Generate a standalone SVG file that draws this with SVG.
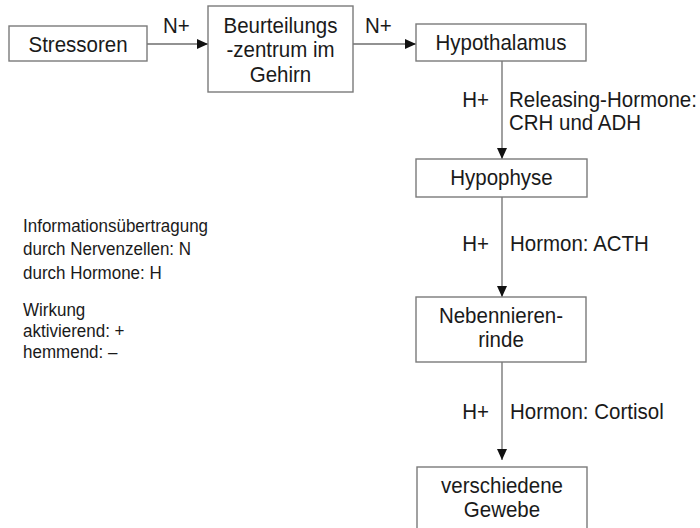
<svg xmlns="http://www.w3.org/2000/svg" width="700" height="528" viewBox="0 0 700 528">
<defs>
<marker id="ah" markerUnits="userSpaceOnUse" markerWidth="12" markerHeight="10" refX="11" refY="5" orient="auto">
<path d="M0,0 L11,5 L0,10 Z" fill="#111"/>
</marker>
<style>
.box{fill:#fff;stroke:#7a7a7a;stroke-width:1.4}
.t{font-family:"Liberation Sans",Arial,sans-serif;font-size:20.5px;fill:#1a1a1a}
.c{text-anchor:middle}
.r{text-anchor:end}
.lg{font-family:"Liberation Sans",Arial,sans-serif;font-size:17px;fill:#1a1a1a}
.ln{stroke:#6e6e6e;stroke-width:1.3;fill:none}
</style>
</defs>
<rect width="700" height="528" fill="#fff"/>
<g id="connectors">
<line class="ln" x1="147" y1="44" x2="208" y2="44" marker-end="url(#ah)"/>
<line class="ln" x1="353" y1="44" x2="416" y2="44" marker-end="url(#ah)"/>
<line class="ln" x1="502" y1="61" x2="502" y2="159" marker-end="url(#ah)"/>
<line class="ln" x1="502" y1="197" x2="502" y2="297" marker-end="url(#ah)"/>
<line class="ln" x1="502" y1="362" x2="502" y2="460" marker-end="url(#ah)"/>
<text class="t" transform="translate(163,33) scale(1,1.07)">N+</text>
<text class="t" transform="translate(365,33) scale(1,1.07)">N+</text>
<text class="t r" transform="translate(489,107) scale(1,1.07)">H+</text>
<text class="t" transform="translate(509,107) scale(1,1.07)">Releasing-Hormone:</text>
<text class="t" transform="translate(509,130) scale(1,1.07)">CRH und ADH</text>
<text class="t r" transform="translate(489,251) scale(1,1.07)">H+</text>
<text class="t" transform="translate(510,251) scale(1,1.07)">Hormon: ACTH</text>
<text class="t r" transform="translate(489,419) scale(1,1.07)">H+</text>
<text class="t" transform="translate(510,419) scale(1,1.07)">Hormon: Cortisol</text>
</g>
<g id="stressoren">
<rect class="box" x="9" y="26" width="138" height="35"/>
<text class="t c" transform="translate(78,52) scale(1,1.07)">Stressoren</text>
</g>
<g id="beurteilungszentrum">
<rect class="box" x="208" y="6" width="145" height="86"/>
<text class="t c" transform="translate(280.5,33) scale(1,1.07)">Beurteilungs</text>
<text class="t c" transform="translate(280.5,57) scale(1,1.07)">-zentrum im</text>
<text class="t c" transform="translate(280.5,82) scale(1,1.07)">Gehirn</text>
</g>
<g id="hypothalamus">
<rect class="box" x="416" y="24" width="170" height="37"/>
<text class="t c" transform="translate(501,50) scale(1,1.07)">Hypothalamus</text>
</g>
<g id="hypophyse">
<rect class="box" x="416" y="159" width="171" height="38"/>
<text class="t c" transform="translate(501.5,185) scale(1,1.07)">Hypophyse</text>
</g>
<g id="nebennierenrinde">
<rect class="box" x="416" y="297" width="170" height="65"/>
<text class="t c" transform="translate(501,323) scale(1,1.07)">Nebennieren-</text>
<text class="t c" transform="translate(501,347) scale(1,1.07)">rinde</text>
</g>
<g id="gewebe">
<rect class="box" x="417" y="467" width="170" height="80"/>
<text class="t c" transform="translate(502,493) scale(1,1.07)">verschiedene</text>
<text class="t c" transform="translate(502,517) scale(1,1.07)">Gewebe</text>
</g>
<g id="legende">
<text class="lg" transform="translate(23,232) scale(1,1.09)">Informationsübertragung</text>
<text class="lg" transform="translate(23,255) scale(1,1.09)">durch Nervenzellen: N</text>
<text class="lg" transform="translate(23,279) scale(1,1.09)">durch Hormone: H</text>
<text class="lg" transform="translate(23,316) scale(1,1.09)">Wirkung</text>
<text class="lg" transform="translate(23,337) scale(1,1.09)">aktivierend: +</text>
<text class="lg" transform="translate(23,358) scale(1,1.09)">hemmend: –</text>
</g>
</svg>
